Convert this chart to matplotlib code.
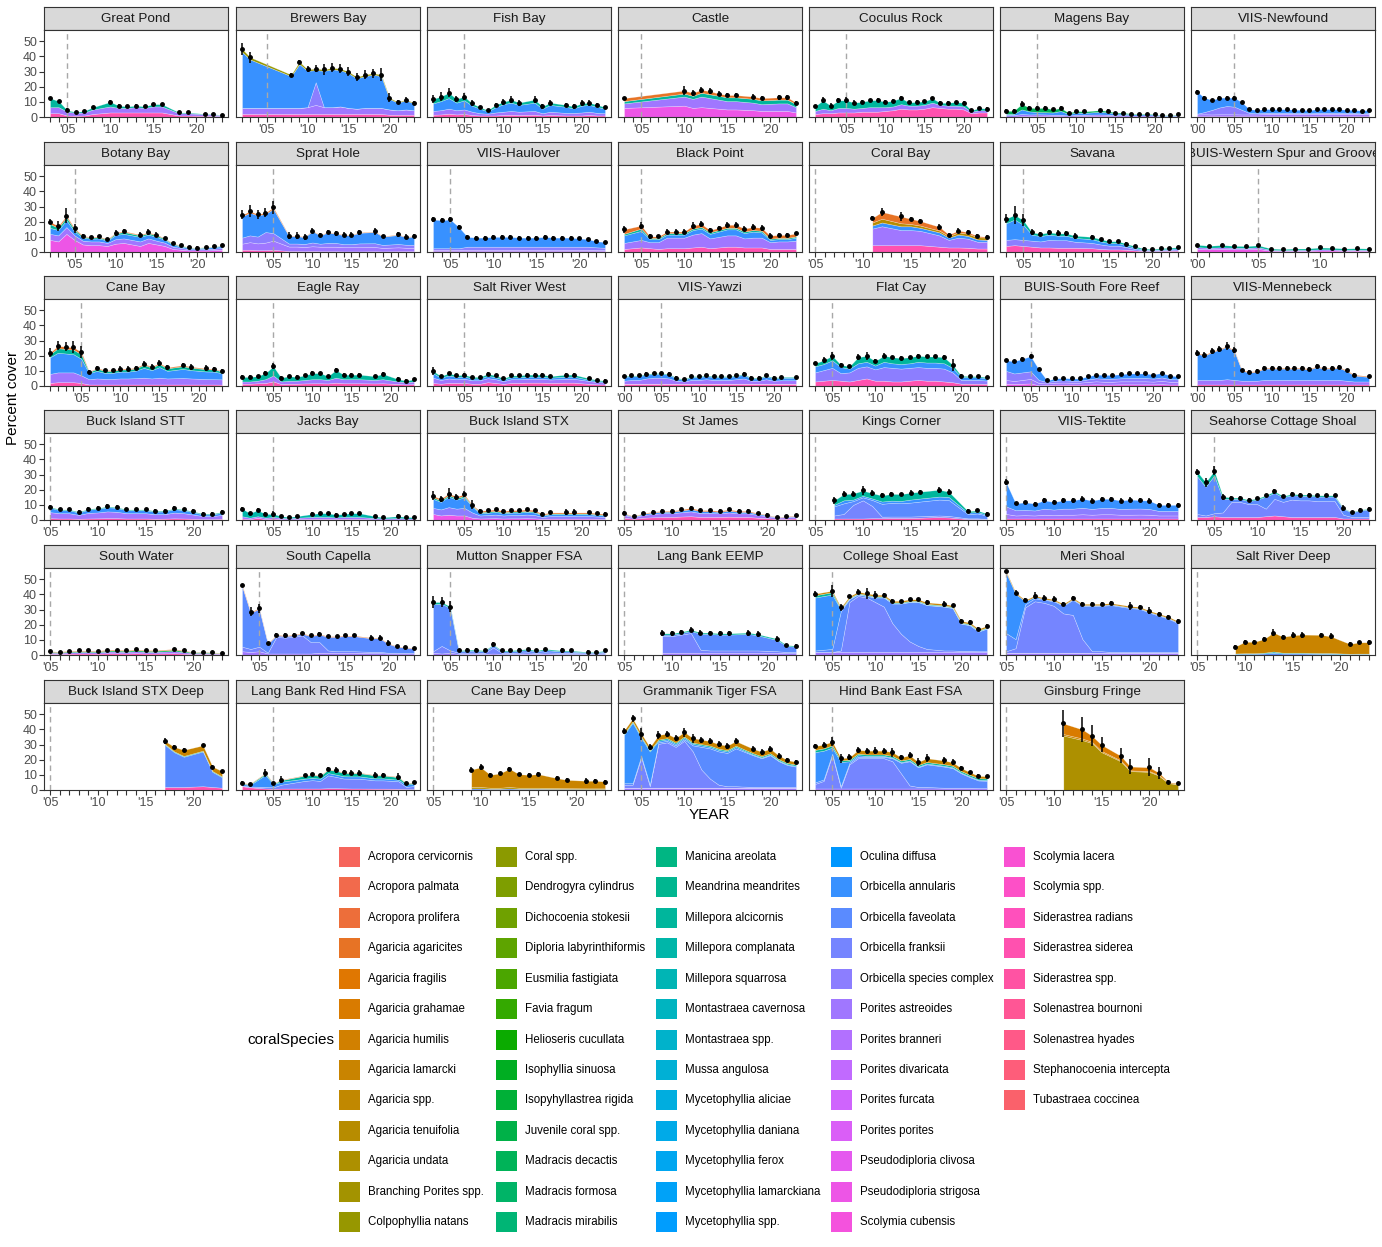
#!/usr/bin/env python3
"""Percent coral cover by species, stacked per monitoring site (7 x 6 facets)."""

import numpy as np
import matplotlib

matplotlib.use("Agg")
import matplotlib.pyplot as plt
from matplotlib.patches import Rectangle

SPECIES = [
    "Acropora cervicornis", "Acropora palmata", "Acropora prolifera",
    "Agaricia agaricites", "Agaricia fragilis", "Agaricia grahamae",
    "Agaricia humilis", "Agaricia lamarcki", "Agaricia spp.",
    "Agaricia tenuifolia", "Agaricia undata", "Branching Porites spp.",
    "Colpophyllia natans", "Coral spp.", "Dendrogyra cylindrus",
    "Dichocoenia stokesii", "Diploria labyrinthiformis", "Eusmilia fastigiata",
    "Favia fragum", "Helioseris cucullata", "Isophyllia sinuosa",
    "Isopyhyllastrea rigida", "Juvenile coral spp.", "Madracis decactis",
    "Madracis formosa", "Madracis mirabilis", "Manicina areolata",
    "Meandrina meandrites", "Millepora alcicornis", "Millepora complanata",
    "Millepora squarrosa", "Montastraea cavernosa", "Montastraea spp.",
    "Mussa angulosa", "Mycetophyllia aliciae", "Mycetophyllia daniana",
    "Mycetophyllia ferox", "Mycetophyllia lamarckiana", "Mycetophyllia spp.",
    "Oculina diffusa", "Orbicella annularis", "Orbicella faveolata",
    "Orbicella franksii", "Orbicella species complex", "Porites astreoides",
    "Porites branneri", "Porites divaricata", "Porites furcata",
    "Porites porites", "Pseudodiploria clivosa", "Pseudodiploria strigosa",
    "Scolymia cubensis", "Scolymia lacera", "Scolymia spp.",
    "Siderastrea radians", "Siderastrea siderea", "Siderastrea spp.",
    "Solenastrea bournoni", "Solenastrea hyades", "Stephanocoenia intercepta",
    "Tubastraea coccinea",
]

SITES = [
    "Great Pond", "Brewers Bay", "Fish Bay", "Castle", "Coculus Rock", "Magens Bay", "VIIS-Newfound",
    "Botany Bay", "Sprat Hole", "VIIS-Haulover", "Black Point", "Coral Bay", "Savana",
    "BUIS-Western Spur and Groove",
    "Cane Bay", "Eagle Ray", "Salt River West", "VIIS-Yawzi", "Flat Cay", "BUIS-South Fore Reef",
    "VIIS-Mennebeck",
    "Buck Island STT", "Jacks Bay", "Buck Island STX", "St James", "Kings Corner", "VIIS-Tektite",
    "Seahorse Cottage Shoal",
    "South Water", "South Capella", "Mutton Snapper FSA", "Lang Bank EEMP", "College Shoal East",
    "Meri Shoal", "Salt River Deep",
    "Buck Island STX Deep", "Lang Bank Red Hind FSA", "Cane Bay Deep", "Grammanik Tiger FSA",
    "Hind Bank East FSA", "Ginsburg Fringe",
]

# survey years per site
SITE_YEARS = {
    "Great Pond": "2003-2008 2010-2016 2018 2019 2021-2023",
    "Brewers Bay": "2002 2003 2008-2023",
    "Fish Bay": "2001-2012 2014-2016 2018-2023",
    "Castle": "2003 2010-2016 2018 2019 2021-2023",
    "Coculus Rock": "2001-2023",
    "Magens Bay": "2001-2011 2013-2023",
    "VIIS-Newfound": "2000-2023",
    "Botany Bay": "2002-2011 2013-2023",
    "Sprat Hole": "2001-2005 2007-2016 2018 2019 2021-2023",
    "VIIS-Haulover": "2003-2023",
    "Black Point": "2003 2005-2023",
    "Coral Bay": "2011 2012 2014-2016 2018-2023",
    "Savana": "2003-2011 2013-2023",
    "BUIS-Western Spur and Groove": "2000-2014",
    "Cane Bay": "2001-2016 2018 2019 2021-2023",
    "Eagle Ray": "2001-2016 2018 2019 2021-2023",
    "Salt River West": "2001-2016 2018 2019 2021-2023",
    "VIIS-Yawzi": "2000-2021 2023",
    "Flat Cay": "2003-2023",
    "BUIS-South Fore Reef": "2002-2023",
    "VIIS-Mennebeck": "2000-2021 2023",
    "Buck Island STT": "2005-2023",
    "Jacks Bay": "2001-2008 2010-2016 2018 2019 2021-2023",
    "Buck Island STX": "2001-2016 2018 2019 2021-2023",
    "St James": "2005-2023",
    "Kings Corner": "2007-2016 2018 2019 2021-2023",
    "VIIS-Tektite": "2005-2023",
    "Seahorse Cottage Shoal": "2003-2023",
    "South Water": "2005-2016 2018-2023",
    "South Capella": "2003-2016 2018-2023",
    "Mutton Snapper FSA": "2003-2016 2018 2019 2021-2023",
    "Lang Bank EEMP": "2009-2016 2018 2019 2021-2023",
    "College Shoal East": "2003 2005-2016 2018-2023",
    "Meri Shoal": "2005-2016 2018-2023",
    "Salt River Deep": "2009-2016 2018 2019 2021-2023",
    "Buck Island STX Deep": "2017-2019 2021-2023",
    "Lang Bank Red Hind FSA": "2001 2002 2004-2006 2009-2016 2018 2019 2021-2023",
    "Cane Bay Deep": "2009-2016 2018 2019 2021-2023",
    "Grammanik Tiger FSA": "2003-2016 2018-2023",
    "Hind Bank East FSA": "2003-2016 2018-2023",
    "Ginsburg Fringe": "2011 2013-2015 2017 2018 2020-2023",
}

# standard error of total cover, per survey year
SITE_SE = {
    "Great Pond": "1 1 1.5 .5 .5 .8 1.5 1 .8 .8 .8 1 1 1 .8 .8 .5 .5",
    "Brewers Bay": "4 3.5 1 1 2 2.5 3.5 3 3 3 2.5 3 3 4.5 3 1 1.5 1",
    "Fish Bay": "2.5 3 3 2 2.5 2 1 1 1.5 2 2.5 2 2.5 1.5 1.5 1.5 1.5 2 2 1.5 1",
    "Castle": "1 3 2 2 2 1.5 1.5 1.5 1.5 1.5 1.5 1.5 1",
    "Coculus Rock": "1 2 1.5 1.5 2 1.5 1.5 1 1.5 1 1 1.5 1 1 1 1 1 1.5 1 1 .8 .8 .8",
    "Magens Bay": "1 1 2 1 1.5 1 1 1 .7 .8 .8 1 1 .7 .7 .5 .5 .5 .5 .5 .4 .5",
    "VIIS-Newfound": "1 .8 1 .8 .8 .8 .8 .5 .5 .5 .5 .5 .5 .5 .5 .5 .5 .5 .5 .5 .5 .5 .5 .5",
    "Botany Bay": "1.5 3 5 3 1 1 1 1 2 1.5 1.5 2 1.5 1 1 1 1 1 .8 .8 1",
    "Sprat Hole": "3 4 3 3 4.5 2 2 2 1.5 1.5 1.5 1.5 1.5 1.5 1.5 2.5 1 1.5 1.5 1",
    "VIIS-Haulover": "1.5 1.5 1.5 1.5 1 1 1 1 1 1 1 1 1 1 1 1 1 1 1 .8 .8",
    "Black Point": "2.5 2 1.5 1 1.5 1.5 1.5 2 2 1.5 1.5 2 2 1.5 2 2 1.5 1 1 1",
    "Coral Bay": "1 2.5 3 1 1 2 1 1.5 1.5 1 1",
    "Savana": "3 6 4 2 1.5 1.5 2 1.5 2 1.5 1 1 1 .8 .8 .8 .5 .5 .5 .8",
    "BUIS-Western Spur and Groove": ".5 .5 .5 .5 .5 .5 .5 .5 .5 .5 .5 .5 .5 .5 .5",
    "Cane Bay": "3 3 3 4 4 1 1 1 1 1.5 1.5 1 1.5 1.5 2 1.5 1.5 2 2 1 1.5",
    "Eagle Ray": "1 1 1 1.5 2 1 1 1 1 1.5 1 1 1.5 1 1 1 1 1 1.5 .8 .8",
    "Salt River West": "2.5 1 1 1 1 .8 .8 1 1 .8 1 1 .8 .8 .8 .8 1 1 1 .8 .8",
    "VIIS-Yawzi": "1 1 1 1 1 1 1 .8 .8 1 1 1 1 1 1 1 1 .8 .8 1 .8 .8 .8",
    "Flat Cay": "1 2 2.5 1.5 1 2 2.5 1.5 1.5 1 1 1 1 1 1 1.5 4 1 .8 .8 .8",
    "BUIS-South Fore Reef": "1 1 1 1.5 1 .5 .5 .5 .5 .5 .5 .5 .5 .5 .5 .5 .5 .5 .5 .5 .5 .5",
    "VIIS-Mennebeck": "2 2 2 2 2.5 2 1 1 1 1 1 1 1 1 1 1 1.5 1.5 1 1.5 1 .8 .8",
    "Buck Island STT": "1.5 1 1 1 1.5 1.5 1.5 1.5 1 1 1 1 1 1.5 1 1.5 1 1 1",
    "Jacks Bay": "1 .8 1.5 1 2 .8 .8 .8 1 1 1 .8 .8 1 1 1 .8 1.5 .8 .8",
    "Buck Island STX": "3 2 3.5 2 2 3 1 1 1 1 1 1 1 1 1 1 2 2 1 1 1",
    "St James": "1.5 .8 1 1 1 1 1 1.5 1 1 1 1 1 1 1 1 .5 .8 .8",
    "Kings Corner": "2.5 2 1.5 3 2 1.5 1 1 1.5 1 2 2 1.5 1 1",
    "VIIS-Tektite": "2 1 1 1 1.5 1.5 1.5 1.5 1.5 1.5 1.5 1.5 1.5 1.5 1.5 1.5 1.5 1.5 1.5",
    "Seahorse Cottage Shoal": "2 3 3 2 1 1 1 1 1 1.5 1 1 1 1 1 1 1 2 .8 .8 1",
    "South Water": ".5 .5 .5 .5 .5 .5 .5 .5 .5 .5 .5 .5 .5 .5 .5 .5 .5 .5",
    "South Capella": "1 3 3 1 1 1.5 1 1 1 1 .8 .8 .8 .8 1.5 1.5 2 .8 .8 .8",
    "Mutton Snapper FSA": "4 3.5 3.5 .8 .8 .8 .8 1.5 .8 .8 .8 .8 .8 .8 1.5 1 1 .8 1",
    "Lang Bank EEMP": "2 1.5 1.5 1.5 1.5 1 1.5 1.5 2 2 2 1 1",
    "College Shoal East": "2 4 2.5 1 1.5 3.5 2.5 1.5 1.5 .8 .8 1 1.5 2 1 1.5 1.5 1 1.5",
    "Meri Shoal": "1 1.5 1.5 2.5 2 2 1.5 1.5 1 1.5 1.5 1.5 2.5 1.5 2.5 1 1 1.5",
    "Salt River Deep": "1 1 1.5 1.5 2.5 1.5 2 2 1.5 2 1 1 1.5",
    "Buck Island STX Deep": "2 1 1.5 1 .8 .8",
    "Lang Bank Red Hind FSA": "1 .8 2.5 1 2.5 1 1 1 1.5 2 1.5 1.5 1.5 2 1.5 2.5 1 1",
    "Cane Bay Deep": "1.5 2 1 1 1.5 1 1 1.5 1.5 1.5 2 1 1",
    "Grammanik Tiger FSA": "2 2.5 4 2 2.5 2 2 3 3 2 2 2 2 2 1.5 2 2 1.5 1.5 1.5",
    "Hind Bank East FSA": "1.5 1.5 3 3 2 2 2 2.5 2 3 1.5 2 2.5 2.5 2 2 1.5 1 1.5 1",
    "Ginsburg Fringe": "9 8 7 5 5 5 6 4 1 .8",
}

# percent cover of the main species at each site (same order as SITE_YEARS)
SITE_COVER = {
    "Great Pond": {
        "Millepora alcicornis": "6 4 1 .5 1 1.5 3 1.5 1 1 1 1.5 1.5 .5 .5 .3 .3 .2",
        "Porites astreoides": "4 4 2.5 2 2 3 4 3 3 3.5 3 4 4 1.5 1.5 1 1 .7",
        "Siderastrea siderea": "2.5 2.5 1 .8 1 2 3 3 3 3 3 3 3 1 1 .8 .6 .5",
    },
    "Brewers Bay": {
        "Colpophyllia natans": "2 1.5 1 1.5 1 1 1 1 1 1 1 1 1 1 .8 .5 .5 .5",
        "Orbicella annularis": "37 32 21 29 24 8 24 25 24 23 20 21 22 21 7 5 6 4.5",
        "Orbicella species complex": "0 0 0 0 0 15 0 0 0 0 0 0 0 0 0 0 0 0",
        "Porites astreoides": "4 4 4 4 4.5 6 4.5 4.5 5 4 3.5 4 4 4 3.5 3 3.5 3",
        "Siderastrea siderea": "2 2 2 2 2 2 2 2 2 2 2 2 2 2 1.5 1.5 1.5 1.5",
    },
    "Fish Bay": {
        "Millepora alcicornis": "3 3 3.5 2.5 2.5 1.5 1 .8 1.5 1.5 2 1.5 2 1.5 1.5 1.3 1.3 1.5 1.5 1.3 1",
        "Orbicella annularis": "5 6 7 5 6 4 3 1.5 3.5 5 5.5 4.5 5.5 3 4.5 4 3 4.5 4.5 4 3",
        "Porites astreoides": "2.5 2.8 3.3 2.8 3 2.2 1.5 1.2 2 2.2 2.5 2.2 2.5 1.5 2.2 1.7 1.7 2 2.2 1.7 1.5",
        "Siderastrea siderea": "1.5 1.7 2.2 1.7 2 1.3 1 1 1 1.3 1.5 1.3 1.5 1 1.3 1 1 1 1.3 1 1",
    },
    "Castle": {
        "Agaricia agaricites": "2 2 2 2 2 1.5 1.5 1.5 1.5 1.5 1.5 1.5 1",
        "Millepora alcicornis": "1.5 2 2 2.5 2.5 2.5 2.5 2.5 2.5 2.5 2.5 2.5 2",
        "Porites astreoides": "3 6 6 7 6.5 6 5.5 5.5 5 4.5 5 5 3.5",
        "Pseudodiploria strigosa": "6 7.5 6 6.5 6 5.5 5 5 4.5 4 4 4 3",
    },
    "Coculus Rock": {
        "Millepora alcicornis": "3 5.5 3 5 5 4 4 4.5 4.7 3.5 3.8 4.1 2.1 2.5 2.3 2.9 1.4 1.9 2.4 2.4 .9 1.5 1.2",
        "Porites astreoides": "2 3 2 3 3 2.5 2.5 3 3 2.5 2.5 3 2.5 2.5 2.5 3 2 2 2 2 1 1.5 1.3",
        "Siderastrea siderea": "2 2.5 2.5 3 3 3 3.5 3.5 3.5 4 4.5 5.5 5 5 5.5 6.5 6 5.5 5.5 5 2.5 3 3",
    },
    "Magens Bay": {
        "Madracis decactis": "2 2 3.5 2.5 2.5 3 2 2 .8 1 1 1 1 .6 .6 .4 .4 .4 .3 .2 .2 .3",
        "Orbicella annularis": ".8 .8 3 2 1.5 1.5 1.5 2.5 1 1.5 1.2 1.8 1.5 1 1 .8 .8 .8 .6 .5 .4 .6",
        "Porites astreoides": "1 1 1.5 1.2 1.3 1.2 1 1 .7 1 1 1.2 1 .9 .9 .7 .7 .8 .6 .5 .3 .6",
        "Siderastrea siderea": ".3 .3 .5 .5 .5 .5 .5 .5 .3 .5 .5 .5 .5 .4 .4 .3 .3 .3 .3 .2 .2 .3",
    },
    "VIIS-Newfound": {
        "Orbicella annularis": "14.5 9.5 6.5 6.5 5.5 6 5 2.5 2.2 2.5 2.5 2.5 2.5 2.2 2.2 2 2.5 2.5 2.5 2.5 2.2 2.2 1.8 2.2",
        "Orbicella species complex": ".5 1.5 3 4.5 5.5 5 3 1 .8 .8 .6 .6 .6 .6 .6 .6 .6 .6 .6 .6 .6 .6 .5 .6",
        "Porites astreoides": "1.2 1.3 1.2 1.3 1.3 1.3 1.2 1.2 1.2 1.4 1.6 1.6 1.6 1.5 1.5 1.4 1.6 1.6 1.6 1.6 1.5 1.5 1.4 1.5",
        "Siderastrea siderea": ".5 .5 .5 .5 .5 .5 .5 .5 .5 .5 .5 .5 .5 .5 .5 .5 .5 .5 .5 .5 .5 .5 .5 .5",
    },
    "Botany Bay": {
        "Agaricia agaricites": "1.5 1.2 1 .8 .5 .4 .5 .4 .5 .5 .5 .5 .5 .3 .3 .2 .1 .1 .1 .1 .1",
        "Millepora alcicornis": "2.5 1.5 2 1.3 .8 .7 .8 .6 1 1.3 1 1 1 .7 .6 .5 .4 .3 .4 .4 .4",
        "Orbicella annularis": "4 3.5 4.5 2.5 2 1.8 2 1.5 2.8 3 3 2.5 2.5 2 1.3 1 .8 .6 .9 1 1.2",
        "Porites astreoides": "4 4 4.5 3 2.5 2.5 2.5 2 3 3 3 3 2.5 2.2 1.5 1.2 .9 .8 1 1 1.2",
        "Pseudodiploria strigosa": "8 7 12 8 5 4.5 4.5 4 5.5 6 4 6 5 4 2 1.5 1 1 1 1.2 1.5",
    },
    "Sprat Hole": {
        "Agaricia agaricites": "1 1 .8 .8 1 .3 .3 .3 .3 .3 .3 .3 .3 .3 .3 .3 .3 .3 .3 .3",
        "Orbicella annularis": "14 15 14 12 16 5 5 4.5 7.5 5.5 7 6 6 6 7 7.5 5.5 6 5 5.5",
        "Orbicella species complex": "4 4.5 4.5 7 5 2 2 2 2.5 2 2.5 2.5 2 2 2.5 2.5 2 2.2 2 2",
        "Porites astreoides": "4 5 4.5 5 6 3 3 2.8 3.2 3 3 3 2.8 2.8 2.8 2.8 2.3 2.6 2.3 2.3",
        "Siderastrea siderea": "1.5 1.5 1.2 1.2 1.5 .6 .6 .5 .6 .5 .5 .5 .4 .4 .4 .5 .4 .5 .5 .5",
    },
    "VIIS-Haulover": {
        "Orbicella annularis": "19 18.5 19 14 6.5 6 6 6.5 6.5 6.5 6 6 6 6.5 6 6 6 5.5 5 4 3.8",
        "Orbicella species complex": "1 1 1 1 2 2 2 2 2 2 2 2 2 2 2 2 2 2 2 1.8 1.6",
        "Porites astreoides": "1 1 1 1 1 1 1 1 1 1 1 1 1 1 1 1 1 1 1 .8 .7",
        "Siderastrea siderea": ".5 .5 .5 .5 .5 .5 .5 .5 .5 .5 .5 .5 .5 .5 .5 .5 .5 .5 .5 .5 .5",
    },
    "Black Point": {
        "Agaricia agaricites": "3 2 1 1 1 1 1 2 2 1.5 1.5 2 2 2 2 2 2 2 2 2",
        "Millepora alcicornis": "1 1.5 .8 .8 1 1 1 1 1 1 1 1 1 1 1 1 .8 .8 .8 .8",
        "Orbicella annularis": "5 6 2 2 2 2 2 3 3 3 3.5 4 4 3.5 4 3.5 1.5 1.5 1.5 2",
        "Porites astreoides": "4 5 4 4.5 7 7 7 8.5 9 6.5 7 7.5 7.5 6 6.5 6.5 4.5 5 5 5.5",
        "Siderastrea siderea": "2 3 2.5 2 2.5 2.5 2.5 3 3.5 2.5 3 3.5 3.5 3 3 3 2 2 2 2",
    },
    "Coral Bay": {
        "Agaricia agaricites": "3 4.5 4.5 3.5 3 2.5 1 1.2 1 .8 .5",
        "Agaricia tenuifolia": "2 2.5 2 1.5 1.5 1.2 1 1.5 1.5 1.5 1.5",
        "Orbicella annularis": "2 2.5 2.5 2.5 2 2 1.5 2 1.8 1.5 1.2",
        "Porites astreoides": "11 12.5 10 10 9.5 7.5 5 6.5 6 4.5 4.5",
        "Siderastrea siderea": "4.5 4.5 4.5 4.5 4.5 3.5 3 3 2.8 2.3 2.3",
    },
    "Savana": {
        "Millepora alcicornis": "3 3 3 1.5 1.5 1.5 1.5 1.5 1.5 1.5 1.5 1.2 1.2 1 1 .6 .5 .7 .7 .8",
        "Orbicella annularis": "11 13 10 4 3.5 3.5 3 3 2.5 2.5 2 1.7 1.7 1.3 .8 .5 .4 .5 .6 .7",
        "Orbicella species complex": "4 4 4 4 4 5 5 5 4 3.5 3 2.5 2.5 1.7 1 .5 .5 .6 .7 .8",
        "Siderastrea siderea": "4 4.5 4 3.5 3 3 2.8 2.8 2.8 2.5 2 1.7 1.7 1.5 1 .7 .6 .7 .8 .9",
    },
    "BUIS-Western Spur and Groove": {
        "Millepora alcicornis": "1.6 1.3 1.5 1.3 1.2 1.3 .9 .8 .9 .9 1.2 1.1 .9 1 .9",
        "Porites astreoides": "1.2 1 1.1 1 .9 1.1 .6 .5 .6 .6 .8 .7 .6 .6 .6",
        "Pseudodiploria strigosa": "2 1.8 2 1.8 1.8 2 .8 .7 .8 .8 1 1 .8 .9 .8",
    },
    "Cane Bay": {
        "Agaricia agaricites": "1 1.5 1.5 1.5 1.5 .3 .5 .5 .5 .5 .5 .5 .7 .6 .7 .6 .7 .6 .5 .5 .4",
        "Millepora alcicornis": "2 3 3 3 3 .7 1.5 1.3 1.3 1.4 1.4 1.5 2 1.7 2 1.7 1.8 1.7 1.5 1.5 1.2",
        "Orbicella annularis": "11 13 12.5 12 11 4 5 4 4 4.5 4.5 5 6.5 5.5 7 5 6 5.5 5 5 4",
        "Porites astreoides": "6 6.5 6.5 6.5 5 3.5 4 3.7 3.7 4 4 4.2 4.5 4 4.5 4 4.3 4 3.6 3.5 3.5",
        "Siderastrea siderea": "2 2.5 2.5 2.5 2 1 1 1 1 1 1 1 1 1 1 1 1 1 1 1 .9",
    },
    "Eagle Ray": {
        "Millepora alcicornis": "3 3 3 4 6 2.5 3 2.5 3 4 4 2.5 5 3 3 3 2.5 3.5 1.5 1 1.5",
        "Porites astreoides": "1.5 1.5 1.7 2.5 4 1.7 2 2 2.3 2.7 2.7 2.3 3.3 2.7 2.7 2.7 2.3 2.7 1.7 1.5 1.7",
        "Siderastrea siderea": "1.5 1.5 1.8 2 3 1.3 1.5 1.5 1.7 1.8 1.8 1.7 2.2 1.8 1.8 1.8 1.7 1.8 1.3 1 1.3",
    },
    "Salt River West": {
        "Millepora alcicornis": "1.5 1 1.5 1 1.2 1 1 1.3 1.2 .8 1.2 1.2 1.3 1.3 1.3 1 1.3 1.3 .9 .7 .6",
        "Orbicella annularis": "3 1.5 2 1.5 1.5 1.2 1.2 1.5 1.3 1 1.3 1.3 1.4 1.4 1.4 1.2 1.4 1.4 .8 .7 .6",
        "Porites astreoides": "3.5 2.5 3 2.5 2.8 2.3 2.3 2.7 2.5 1.8 2.5 2.5 2.6 2.6 2.6 2.3 2.6 2.6 1.9 1.5 1.3",
        "Siderastrea siderea": "2 1.5 2 2 2 1.5 1.5 2.5 2 1.4 2 2 2.2 2.2 2.2 2 2.2 2.2 1.4 1.1 1",
    },
    "VIIS-Yawzi": {
        "Millepora alcicornis": ".5 .5 .5 .5 .5 .5 .5 .5 .5 .5 .5 .5 .5 .5 .5 .5 .5 .5 .5 .5 .5 .5 .5",
        "Orbicella annularis": "2.5 2.5 2.5 2.5 2.5 2.5 2.5 1.5 1 2 2 2 2 2 2 2 2.5 1.5 1.5 2 1.5 1.7 1.7",
        "Porites astreoides": "2 2.5 2.5 3.5 4 4 3.5 2 1.5 2.5 2.5 3 2.5 2.5 2.5 3 3.5 2 2 3 2 2.3 2.3",
        "Siderastrea siderea": "1.5 1.5 1.5 1.5 1.5 1.5 1.5 1.5 1.5 1.5 1.5 1.5 1.5 1.5 1.5 1.5 1.5 1.5 1.5 1.5 1.5 1.5 1.5",
    },
    "Flat Cay": {
        "Millepora alcicornis": "2 2.5 3 1.5 1.5 4 4 3 4 4 4 4 4 4 4 4 2 .8 .7 .7 .6",
        "Orbicella annularis": "4 4 5 4 2.5 3 3 2.5 3.5 3 3 3 3.5 3.5 3.5 3.5 3 2 1.8 1.8 1.6",
        "Orbicella species complex": "6 7 8 5 6 8 8 7.5 9 9 8.5 8.5 8.5 8.5 8.5 8.5 6.5 2.5 2.5 2.5 2.2",
        "Siderastrea siderea": "3 3.5 4 3.5 3 4 5 3.5 3.5 3 3 3.5 4 3.5 3.5 3 2.5 1.5 1.5 1.5 1.4",
    },
    "BUIS-South Fore Reef": {
        "Orbicella annularis": "7 8 9 10 7 1 1.5 1.5 1.5 1.5 2 2.5 2.5 2.5 2.7 3 3 3 2.7 3 2.3 2",
        "Orbicella species complex": "6 5 5 5 2 1 1.3 1.5 1.3 1.3 1.7 2 2 2 2 2.2 2.2 2.2 2 2.3 1.8 1.7",
        "Porites astreoides": "2.5 2 2.5 3 1.5 1 1.3 1.4 1.3 1.3 1.7 2 1.8 1.8 2 2 2 2 1.8 2.2 1.8 1.7",
        "Pseudodiploria strigosa": "1.5 1.3 1.5 1.7 .5 .7 .9 .9 .9 .9 1 1.1 1 1 1.1 1.1 1.1 1.1 1.1 1.2 1 1",
    },
    "VIIS-Mennebeck": {
        "Agaricia agaricites": ".5 .5 .5 .5 .5 .5 .5 .5 .5 .5 .5 .5 .5 .5 .5 .5 .5 .5 .5 .5 .5 .5 .5",
        "Orbicella annularis": "17.5 16 18.5 20 21.5 19 6.5 5.5 6 7.5 7.5 7.5 7.5 7.5 7.5 7 8.5 7.5 7.5 8 6.5 4 3",
        "Porites astreoides": "3 3 3 3 3.5 3 2.5 2.5 2.5 3 3 3 3 3 3 3 3 3 3 3 2.5 2 2",
        "Siderastrea siderea": "1 1 1 1 1 1 1 1 1 1 1 1 1 1 1 1 1 1 1 1 1 1 1",
    },
    "Buck Island STT": {
        "Millepora alcicornis": ".5 .5 .5 .5 .5 .5 .5 .5 .5 .5 .5 .5 .5 .5 .5 .5 .5 .5 .5",
        "Orbicella annularis": "3 2 2 1.5 2.2 2.4 2.8 2.6 2 2 2 1.7 1.8 2.3 2 1.6 1.1 1.1 1.5",
        "Porites astreoides": "4 3.5 3.5 2.6 3.7 3.9 4.5 4.2 3.5 3.5 3.5 3 3 3.8 3.5 2.8 2 2 2.6",
        "Siderastrea siderea": "1.2 1 1 .8 1 1.1 1.2 1.2 1 1 1 .8 .9 1.1 1 .8 .6 .6 .8",
    },
    "Jacks Bay": {
        "Millepora complanata": "5 3 4 2.5 2 1 .8 1 2 2.5 2.5 1.8 2 2.5 2.5 1.2 .8 1.2 1 .8",
        "Porites astreoides": "1.5 1 1 1 1 1 .8 1 1.3 1.3 1.3 1.1 1.3 1.3 1.3 .9 .7 .9 .7 .7",
        "Siderastrea siderea": "1 .5 1.5 .5 1 .5 .4 .5 .7 .7 .7 .6 .7 .7 .7 .4 .3 .4 .3 .3",
    },
    "Buck Island STX": {
        "Agaricia agaricites": "1 1 1 1 1 .5 .8 .9 1 .8 .9 .9 1 .9 .6 .7 .7 .7 .7 .7 .6",
        "Millepora alcicornis": "1 1 1 1 1 .5 .7 .8 .7 .7 .7 .7 .6 .7 .4 .5 .5 .5 .5 .5 .4",
        "Orbicella annularis": "6 5 7 6 7 4 1.5 1.5 1.7 1.5 1.6 1.6 1.8 1.6 1 1.2 1.2 1.2 1.2 1 .9",
        "Orbicella species complex": "4 4 5 4.5 5 3.5 2 2.2 2.4 2 2.2 2.2 2.4 2.2 1.3 1.7 1.7 1.7 1.7 1.5 1.4",
        "Pseudodiploria strigosa": "4 3 3.5 3 3 1.5 1 1.1 1.2 1 1.1 1.1 1.2 1.1 .7 .9 .9 .9 .9 .8 .7",
    },
    "St James": {
        "Agaricia agaricites": ".4 .3 .4 .5 .5 .5 .7 .8 .7 .7 .6 .8 .6 .6 .4 .3 .2 .3 .3",
        "Orbicella annularis": ".8 .4 .8 1 1 1 1.2 1.5 1.2 1.2 1 1.2 1 1 .8 .6 .3 .4 .5",
        "Porites astreoides": "1.8 1 1.8 2.2 2.5 2.5 2.8 3.2 2.6 2.6 2.4 2.8 2.4 2.4 1.8 1.4 .8 1 1.2",
        "Siderastrea siderea": "1.5 .8 1.5 1.8 2 2 2.3 2.5 2 2 2 2.2 2 2 1.5 1.2 .7 .8 1",
    },
    "Kings Corner": {
        "Millepora alcicornis": "3 4 4 3.5 3.5 4 4.5 4.5 4.5 4.5 4.5 3.5 1 1 .6",
        "Orbicella annularis": "1 2 1 1 1 1.5 1.5 1.5 2 2 2 2 1 1 .6",
        "Orbicella faveolata": "6 7 2.5 2 4 8.5 9 8.8 9.2 9.7 10.5 10.5 2.8 3.2 2.2",
        "Orbicella franksii": "2 3 9 12 8 1 1 1 1 1 1 1 .5 .5 .3",
        "Siderastrea siderea": "1 1 1 1 1.2 1.2 1.3 1.3 1.3 1.5 2 1.7 .6 .6 .5",
    },
    "VIIS-Tektite": {
        "Orbicella annularis": "16 4.5 5 4.5 5.5 5 5.5 5.5 6 5.5 6 6 5.5 6 5.5 5.5 4 4 4",
        "Orbicella species complex": "5 3.5 3.5 3.3 4 3.7 4 4 4.3 3.8 4.2 4.2 3.8 4 4 3.8 3 3 3",
        "Porites astreoides": "3 2 2.2 2 2.5 2.2 2.5 2.5 2.8 2.5 2.8 2.8 2.5 2.5 2.6 2.5 2 2 2",
        "Siderastrea siderea": "1 1 1 1 1 1 1 1 1 1 1 1 1 1 1 1 1 1 1",
    },
    "Seahorse Cottage Shoal": {
        "Millepora alcicornis": "3 3 3 1.5 .8 .8 .8 .8 .8 1 .8 .8 .8 .8 .8 .8 .8 .4 .3 .4 .4",
        "Orbicella faveolata": "25 19 25 9 2 2 2 3 8 4 3 3 3 3 3 3 3 4 3 4.5 5",
        "Orbicella franksii": "2 1 2 3 10 10 8.5 8.5 5 11 9.5 11.5 11 11 10.5 10.5 10.5 2.5 1 1 1",
        "Siderastrea siderea": "2 2 2.5 2 2 2 2 2 2.5 3 2.5 2 2 2 2 2 2 1 1 1 1",
    },
    "South Water": {
        "Agaricia agaricites": ".3 .3 .4 .4 .4 .4 .5 .5 .4 .5 .4 .4 .5 .4 .2 .2 .2 .2",
        "Madracis decactis": ".6 .5 .6 .6 .6 .6 .7 .7 .7 .8 .7 .7 .9 .7 .5 .5 .4 .3",
        "Porites astreoides": ".8 .7 .9 1 1 .9 1.2 1.2 1.1 1.3 1.1 1.1 1.4 1 .7 .8 .6 .5",
        "Siderastrea siderea": ".8 .7 .9 1 1 .9 1.1 1.1 1 1.2 1 1 1.2 .9 .6 .7 .6 .5",
    },
    "South Capella": {
        "Agaricia agaricites": ".7 .5 .5 .3 .4 .4 .4 .4 .4 .4 .4 .4 .4 .4 .4 .4 .3 .3 .3 .3",
        "Orbicella faveolata": "40 24 25 6 1 1 1 1 4 5 9 9.5 10 10 9 9 6 4 3.5 3",
        "Orbicella franksii": "3 2 3 .5 11 10.5 11 12 7.5 7 1.5 1 1 1 .8 .8 .5 .5 .4 .4",
        "Porites astreoides": "2.5 2 2.5 1 1 1 1 1 1 1.5 1.5 1.5 1.5 1.5 1.3 1.3 1 1 1 1",
    },
    "Mutton Snapper FSA": {
        "Millepora alcicornis": "1.5 1 1 .5 .6 .6 .6 .5 .6 .6 .7 .7 .6 .7 .6 .6 .4 .4 .6",
        "Orbicella faveolata": "31 28 28 1 1.3 1.3 1 1.5 1 1 1.2 1.5 1 1.5 1 1 .6 .6 1",
        "Orbicella franksii": "1 5 1.5 .8 .8 .8 .7 4 .7 .7 .8 .9 .7 .9 .7 .7 .5 .5 .7",
        "Porites astreoides": "1.5 1 1.5 .7 .8 .8 .7 1 .7 .7 .8 .9 .7 .9 .7 .7 .5 .5 .7",
    },
    "Lang Bank EEMP": {
        "Millepora alcicornis": ".8 .8 .8 .8 .8 .8 .8 .8 .8 .8 .8 .6 .6",
        "Orbicella faveolata": "1 1 1 1.5 10.5 11 10.5 10.5 11 10 7.5 4 3.5",
        "Orbicella franksii": "11 11 12 13 2 1.5 1.5 1.5 1.5 1.5 1 .8 .8",
        "Porites astreoides": "1.5 1.5 1.5 1.5 1.5 1.5 1.5 1.5 1.5 1.5 1.5 1.2 1.2",
    },
    "College Shoal East": {
        "Agaricia lamarcki": "1 1 1 1 1 1 1 1 1 1 1 1 1 1 1 1 1 1 1",
        "Millepora alcicornis": "1.5 1.5 .5 .5 .5 .5 .5 .5 .5 .5 .5 .5 .5 .5 .5 .5 .5 .5 .5",
        "Orbicella annularis": "35 36 1 .3 .3 .3 .3 .3 .3 .3 .3 .3 .3 .3 .3 .3 .3 .3 .3",
        "Orbicella faveolata": "1 2 26 2 1 1 3 6 13 20 26 29 29 29 28 18 17 13 15",
        "Orbicella franksii": "0 0 1 33 37 36 33 30 19 12 7 4 2 1 1 .7 .7 .5 .5",
        "Porites astreoides": "2 2 2 2 2 2 2 2 2 2 2 2 2 2 2 2 2 2 2",
    },
    "Meri Shoal": {
        "Agaricia lamarcki": ".8 .8 .8 .8 .8 .8 .8 .8 .8 .8 .8 .8 .8 .8 .8 .8 .8 .8",
        "Orbicella annularis": "40 30 2 1 .5 .5 .5 .5 .5 .5 .5 .5 .5 .5 .5 .5 .5 .5",
        "Orbicella faveolata": "12 6 2 2 2 3 5 10 22 30 30 31 29 28.5 26 24 22 19",
        "Orbicella franksii": "1 3 30 34 33 31 26 25 9 1 1 .5 .5 .5 .5 .5 .5 .5",
        "Porites astreoides": "1.5 1.5 1.5 1.5 1.5 1.5 1.5 1.5 1.5 1.5 1.5 1.5 1.5 1.5 1.5 1.5 1.5 1.5",
    },
    "Salt River Deep": {
        "Agaricia lamarcki": "4.5 7.5 7.5 9 12.5 10.5 11.5 12 12 11 6.5 7.5 7.5",
        "Montastraea cavernosa": ".3 .4 .4 .5 .8 .5 .5 .5 .5 .5 .3 .3 .3",
        "Orbicella faveolata": ".7 .8 .8 1 1.5 1 1 1 .8 .8 .5 .6 .6",
    },
    "Buck Island STX Deep": {
        "Agaricia lamarcki": "2 3 4 3.5 3 3.5",
        "Millepora alcicornis": ".5 .5 .5 .5 .5 .5",
        "Orbicella faveolata": "28 23 20 23 10 7",
        "Siderastrea siderea": "2 2 2 2.5 2 1.5",
    },
    "Lang Bank Red Hind FSA": {
        "Agaricia agaricites": ".3 .3 .3 .3 .3 .3 .3 .3 .3 .3 .3 .3 .3 .3 .3 .3 .3 .3",
        "Millepora alcicornis": ".5 .5 1 .5 1 2 2 1.8 2.3 2.5 2.3 2.2 2.2 2 2 1.7 .7 .8",
        "Orbicella annularis": "1 1 8 2 2 1.5 1.5 1.5 1.5 1.5 1.5 1.5 1.5 1.3 1.3 1 1.5 1.5",
        "Orbicella franksii": ".5 .5 1 1 2.5 5 5.5 5 8.5 7.5 6.5 6.5 6.5 5.5 5.5 5 1.5 2",
        "Siderastrea siderea": "2.5 1.8 1 .8 1 1 1 1 1.2 1.2 1.1 1 1 .9 .9 .8 .6 .6",
    },
    "Cane Bay Deep": {
        "Agaricia lamarcki": "11.5 13 8.5 9.5 12 9 8.5 9 6.5 5.5 5 5 4.5",
        "Agaricia undata": "1 1 .7 .7 1 .7 .7 .7 .6 .5 .5 .5 .5",
        "Orbicella faveolata": "1 1 .8 .8 1 .8 .8 .8 .7 .7 .6 .6 .6",
    },
    "Grammanik Tiger FSA": {
        "Agaricia lamarcki": "2 2 2 2 3 3 3 3 3 3 3 3 3 3 3 3 3 2.5 2 1.8",
        "Millepora alcicornis": ".8 .8 .8 .8 .8 .8 .8 .8 .8 .8 .8 .8 .8 .8 .8 .8 .8 .8 .8 .8",
        "Orbicella annularis": "32 40 12 22 1 1 1 1 1 1 1 1 1 1 .5 .5 .5 .5 .5 .5",
        "Orbicella faveolata": "1 1 1 1 1 1 1 1 4 15 20 22 22 25 21 19 21 17 14.5 13.5",
        "Orbicella franksii": "2 2 20 1 29 30 27 31 24 12 6 2 1 1 .5 .5 .5 .5 .5 .5",
        "Porites astreoides": "1.5 1.5 1.5 1.5 1.5 1.5 1.5 1.5 1.5 1.5 1.5 1.5 1.5 1.5 1.5 1.5 1.5 1.5 1.5 1.5",
    },
    "Hind Bank East FSA": {
        "Agaricia lamarcki": "2.5 2.5 2.5 1.5 1.5 2.5 2.5 2.5 2.5 2.5 2 2.5 2 2.5 2.5 2.3 2 1.8 1.5 1.5",
        "Millepora alcicornis": "1.5 1.5 1.5 1 1 1 1 1 1 1 1 1 1 1 1 1 1 1 1 1",
        "Orbicella annularis": "20 19 4 16 1 1 .5 .5 .5 .5 .5 .5 .5 .5 .5 .5 .5 .5 .5 .5",
        "Orbicella faveolata": "1 1 1 1 1 1 1 1 1 2 7 16 13 15 14 13 9.5 7 5 4.8",
        "Orbicella franksii": "3 5 22 .5 16 20 20 20 20 18 10 2 1 1 .5 .5 .5 .5 .3 .3",
        "Porites astreoides": "1 1 1 1 1 1 1 1 1 1 1 1 1 1 1 1 1 1 1 1",
    },
    "Ginsburg Fringe": {
        "Agaricia grahamae": "7 6 4 4 3 2.5 2.5 1.5 .5 .4",
        "Agaricia lamarcki": "1 1 .8 .8 .6 .5 .5 .4 .3 .2",
        "Agaricia undata": "36 33 31 25 19 12.5 12 9.5 4.5 3.8",
    },
}

W, H = 1382, 1247
COL_X = [44, 236, 427, 618, 809, 1000, 1191]
ROW_Y = [7, 142, 276, 410, 545, 680]
PANEL_W, STRIP_H, PANEL_H = 184, 23, 87


def expand_years(spec):
    out = []
    for part in spec.split():
        if "-" in part:
            a, b = part.split("-")
            out.extend(range(int(a), int(b) + 1))
        else:
            out.append(int(part))
    return out


def nums(text):
    return np.array([float(t) for t in text.split()])


def hcl_rgb(h, c=100.0, l=65.0, gamma=1.2):
    # polar CIE-Luv -> sRGB (as R's hcl()); gamma darkens a little like the
    # colour-managed reference rendering
    hr = np.deg2rad(h)
    u, v = c * np.cos(hr), c * np.sin(hr)
    xn, yn, zn = 95.047, 100.0, 108.883
    den = xn + 15 * yn + 3 * zn
    un, vn = 4 * xn / den, 9 * yn / den
    y = yn * ((l + 16) / 116) ** 3
    up, vp = u / (13 * l) + un, v / (13 * l) + vn
    x = y * 9 * up / (4 * vp)
    z = y * (12 - 3 * up - 20 * vp) / (4 * vp)
    x, y, z = x / 100, y / 100, z / 100
    rgb = [3.2404542 * x - 1.5371385 * y - 0.4985314 * z,
           -0.9692660 * x + 1.8760108 * y + 0.0415560 * z,
           0.0556434 * x - 0.2040259 * y + 1.0572252 * z]
    out = []
    for ch in rgb:
        ch = 12.92 * ch if ch <= 0.0031308 else 1.055 * max(ch, 0) ** (1 / 2.4) - 0.055
        ch = min(max(ch, 0.0), 1.0)
        out.append(ch ** gamma)
    return tuple(out)


def fig_rect(x, y, w, h):
    return [x / W, 1 - (y + h) / H, w / W, h / H]


def main():
    plt.rcParams["font.family"] = ["Liberation Sans", "DejaVu Sans"]
    n = len(SPECIES)
    colors = {sp: hcl_rgb(15 + 360 * i / n) for i, sp in enumerate(SPECIES)}

    fig = plt.figure(figsize=(W / 100, H / 100), dpi=100)

    for k, site in enumerate(SITES):
        r, c = divmod(k, 7)
        x0, y0 = COL_X[c], ROW_Y[r]
        sax = fig.add_axes(fig_rect(x0, y0, PANEL_W, STRIP_H))
        sax.set_facecolor("#D9D9D9")
        sax.set_xticks([])
        sax.set_yticks([])
        for sp in sax.spines.values():
            sp.set_color("#333333")
            sp.set_linewidth(0.8)
        sax.text(0.5, 0.47, site, ha="center", va="center", fontsize=9.7,
                 color="#1A1A1A", transform=sax.transAxes, clip_on=True)

        ax = fig.add_axes(fig_rect(x0, y0 + STRIP_H, PANEL_W, PANEL_H))
        years = np.array(expand_years(SITE_YEARS[site]))
        layers = SITE_COVER[site]
        base = np.zeros(len(years))
        # first factor level ends on top, as in a ggplot stacked area
        for sp in sorted(layers, key=lambda s: -SPECIES.index(s)):
            vals = nums(layers[sp])
            if len(vals) != len(years):
                raise ValueError(f"{site} / {sp}: {len(vals)} values for {len(years)} years")
            ax.fill_between(years, base, base + vals, facecolor=colors[sp],
                            edgecolor=(1, 1, 1, 0.4), linewidth=0.4, zorder=2)
            base = base + vals
        se = nums(SITE_SE[site])
        if len(se) != len(years):
            raise ValueError(f"{site} SE: {len(se)} values for {len(years)} years")
        ax.axvline(2005, color="#A8A8A8", ls=(0, (4, 3)), lw=1.0, zorder=3)
        ax.errorbar(years, base, yerr=se, fmt="o", ms=2.5, color="black",
                    elinewidth=1.1, capsize=0, zorder=4)

        lo, hi = min(years[0], 2005), years[-1]
        pad = 0.035 * (hi - lo)
        ax.set_xlim(lo - pad, hi + pad)
        ax.set_ylim(0, 57.5)
        ticks = np.arange(lo, hi + 1)
        ax.set_xticks(ticks)
        ax.set_xticklabels([f"'{t % 100:02d}" if t % 5 == 0 else "" for t in ticks])
        ax.tick_params(axis="x", length=3.5, width=0.8, color="#333333",
                       labelsize=9, labelcolor="#4D4D4D", pad=1.5)
        if c == 0:
            ax.set_yticks([0, 10, 20, 30, 40, 50])
            ax.tick_params(axis="y", length=3.5, width=0.8, color="#333333",
                           labelsize=9, labelcolor="#4D4D4D", pad=1.5)
        else:
            ax.set_yticks([])
        for sp in ax.spines.values():
            sp.set_color("#333333")
            sp.set_linewidth(0.8)

    fig.text(13 / W, 1 - 398 / H, "Percent cover", rotation=90, ha="center",
             va="center", fontsize=11)
    fig.text(709 / W, 1 - 815 / H, "YEAR", ha="center", va="center", fontsize=11)

    # legend: 5 columns of 13 rows, filled column by column
    key_x = [339, 496, 656, 831, 1004]
    row0, pitch = 857, 30.42
    for i, sp in enumerate(SPECIES):
        col, row = divmod(i, 13)
        yc = row0 + row * pitch
        fig.add_artist(Rectangle((key_x[col] / W, 1 - (yc + 10) / H), 21 / W, 20 / H,
                                 transform=fig.transFigure, facecolor=colors[sp],
                                 edgecolor="none"))
        fig.text((key_x[col] + 29) / W, 1 - yc / H, sp, ha="left", va="center",
                 fontsize=8.3, color="black")
    fig.text(247 / W, 1 - 1040 / H, "coralSpecies", ha="left", va="center", fontsize=11)

    fig.savefig("out.png", dpi=100)
    plt.close(fig)


if __name__ == "__main__":
    main()
